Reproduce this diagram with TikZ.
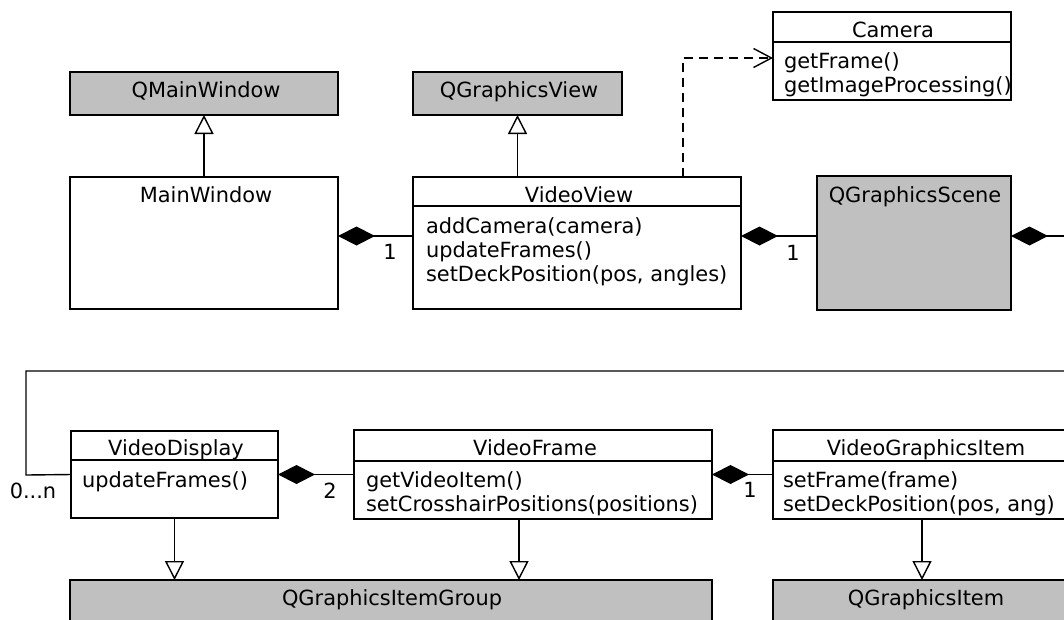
\documentclass[tikz,border=0pt]{standalone}
\usepackage{fontspec}
\setmainfont{DejaVu Sans}
\usetikzlibrary{arrows.meta}
\definecolor{boxgray}{RGB}{192,192,192}
\begin{document}
\begin{tikzpicture}[x=1pt,y=-1pt,
  every node/.style={font=\fontsize{20.9}{24.5}\selectfont, inner sep=0pt, outer sep=0pt},
  cls/.style={draw, line width=1.4pt, anchor=north west, rectangle},
  basecls/.style={cls, fill=boxgray},
  tx/.style={anchor=base west},
  tc/.style={anchor=base},
  lbl/.style={anchor=center},
  conn/.style={line width=1.4pt},
  gen/.style={conn, -{Triangle[open, length=19pt, width=19pt, line width=1.4pt]}},
  comp/.style={conn, {Diamond[length=37pt, width=19pt]}-},
  dep/.style={conn, dash pattern=on 9pt off 6pt, -{Straight Barb[length=18pt, width=19pt, line width=1.4pt]}}
]
\useasboundingbox (0,0) rectangle (1064,619);
\clip (0,0) rectangle (1064,619);

% boxes
\node[basecls, minimum width=268pt, minimum height=43pt] (qmw) at (70,72) {};
\node[cls, minimum width=268pt, minimum height=132pt] (mw) at (70,177) {};
\node[basecls, minimum width=209pt, minimum height=43pt] (qgv) at (413,72) {};
\node[cls, minimum width=328pt, minimum height=132pt] (vv) at (413,177) {};
\node[cls, minimum width=238pt, minimum height=88pt] (cam) at (773,12) {};
\node[basecls, minimum width=194pt, minimum height=134pt] (qgs) at (817,176) {};
\node[cls, minimum width=207pt, minimum height=87pt] (vd) at (71,431) {};
\node[cls, minimum width=358pt, minimum height=89pt] (vf) at (354,430) {};
\node[cls, minimum width=302pt, minimum height=89pt] (vgi) at (773,430) {};
\node[basecls, minimum width=642pt, minimum height=60pt] (qgig) at (70,580) {};
\node[basecls, minimum width=302pt, minimum height=60pt] (qgi) at (773,580) {};

% dividers
\draw[conn] (vv.west |- 0,206) -- (vv.east |- 0,206);
\draw[conn] (cam.west |- 0,42) -- (cam.east |- 0,42);
\draw[conn] (vd.west |- 0,460) -- (vd.east |- 0,460);
\draw[conn] (vf.west |- 0,461) -- (vf.east |- 0,461);
\draw[conn] (vgi.west |- 0,461) -- (vgi.east |- 0,461);

% texts
\node[tc] (tqmw) at (206,97) {QMainWindow};
\node[tc] (tmw) at (206,202) {MainWindow};
\node[tc] (tqgv) at (519,97) {QGraphicsView};
\node[tc] (tvv) at (579,202) {VideoView};
\node[tx] (vv1) at (426,233) {addCamera(camera)};
\node[tx] (vv2) at (426,257) {updateFrames()};
\node[tx] (vv3) at (426,281) {setDeckPosition(pos, angles)};
\node[tc] (tcam) at (893,37) {Camera};
\node[tx] (cam1) at (784,68) {getFrame()};
\node[tx] (cam2) at (784,92) {getImageProcessing()};
\node[tc] (tqgs) at (915,202) {QGraphicsScene};
\node[tc] (tvd) at (176,455) {VideoDisplay};
\node[tx] (vd1) at (82,487) {updateFrames()};
\node[tc] (tvf) at (535,455) {VideoFrame};
\node[tx] (vf1) at (366,487) {getVideoItem()};
\node[tx] (vf2) at (366,511) {setCrosshairPositions(positions)};
\node[tc] (tvgi) at (926,455) {VideoGraphicsItem};
\node[tx] (vgi1) at (783,487) {setFrame(frame)};
\node[tx] (vgi2) at (783,511) {setDeckPosition(pos, ang)};
\node[tc] (tqgig) at (392,605) {QGraphicsItemGroup};
\node[tc] (tqgi) at (926,605) {QGraphicsItem};

% multiplicity labels
\node[lbl] (m1) at (390,252) {1};
\node[lbl] (m2) at (793,253) {1};
\node[lbl] (m3) at (330,491) {2};
\node[lbl] (m4) at (750,490) {1};
\node[lbl] (m5) at (33,491) {0...n};

% free ends
\coordinate (rA) at (1075,236);
\coordinate (rB) at (1075,371);
\coordinate (lB) at (26,371);
\coordinate (lC) at (26,475);
\coordinate (dcorner) at (683,58);

% generalizations
\draw[gen] (mw.north) -- (qmw.south);
\draw[gen] (qgv.south |- vv.north) -- (qgv.south);
\draw[gen] (vd.south) -- (vd.south |- qgig.north);
\draw[gen] (519,519) -- (519,580);
\draw[gen] (vgi.south -| 922,0) -- (qgi.north -| 922,0);

% compositions
\draw[comp] (mw.east |- 0,236) -- (vv.west |- 0,236);
\draw[comp] (vv.east |- 0,236) -- (qgs.west |- 0,236);
\draw[comp] (qgs.east |- 0,236) -- (rA);
\draw[comp] (vd.east) -- (vf.west);
\draw[comp] (vf.east) -- (vgi.west);

% loop
\draw[conn] (rB) -- (lB) -- (lC) -- (vd.west);

% dependency
\draw[dep] (vv.north -| dcorner) -- (dcorner) -- (cam.west |- dcorner);
\end{tikzpicture}
\end{document}
